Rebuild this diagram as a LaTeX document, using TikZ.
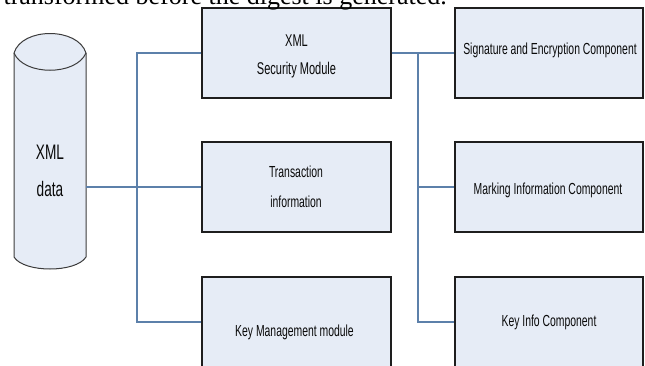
\documentclass[tikz,border=0pt]{standalone}
\usepackage{fontspec}
\setmainfont{Liberation Sans}
\newfontfamily\nar[FakeStretch=0.65]{Liberation Sans}
\newfontfamily\tms{Liberation Serif}
\definecolor{boxfill}{RGB}{230,236,246}
\definecolor{boxline}{RGB}{30,30,30}
\definecolor{cylline}{RGB}{60,60,60}
\definecolor{wirec}{RGB}{92,128,170}
\definecolor{txt}{RGB}{10,10,10}
\begin{document}
\begin{tikzpicture}[x=1pt,y=-1pt,
  box/.style={draw=boxline, line width=1.3pt, fill=boxfill, minimum width=189pt, minimum height=90pt, inner sep=0pt},
  lbl/.style={inner sep=0pt, align=center, text=txt, font=\nar\fontsize{16}{30}\selectfont},
  wire/.style={draw=wirec, line width=1.2pt}]
\useasboundingbox (0,0) rectangle (645,365);
\clip (0,0) rectangle (645,365);
% cylinder (XML data)
\draw[draw=cylline, line width=1pt, fill=boxfill] (14,53) .. controls (22,27) and (78,27) .. (86,53) -- (86,257) .. controls (76,273) and (24,273) .. (14,257) -- cycle;
\draw[draw=cylline, line width=1pt] (14,53) .. controls (24,76) and (76,76) .. (86,53);
\node[inner sep=0pt, minimum width=72pt, minimum height=236pt] (db) at (50,150) {};
\node[lbl, font=\nar\fontsize{21}{37}\selectfont] (dbL) at (50,171) {XML\\data};
% boxes
\node[box] (sec) at (296.5,53) {};
\node[box] (tr) at (296.5,187) {};
\node[box] (km) at (296.5,322) {};
\node[box, minimum width=188pt] (sig) at (549,53) {};
\node[box, minimum width=188pt] (mi) at (549,187) {};
\node[box, minimum width=188pt] (ki) at (549,322) {};
% labels
\node[lbl, font=\nar\fontsize{17}{28}\selectfont] (secL) at (296.5,56) {XML\\Security Module};
\node[lbl] (trL) at (296,187) {Transaction\\information};
\node[lbl, anchor=base] (kmL) at (294.5,336) {Key Management module};
\node[lbl, anchor=base] (sigL) at (550,54) {Signature and Encryption Component};
\node[lbl, anchor=base] (miL) at (548,194) {Marking Information Component};
\node[lbl, anchor=base] (kiL) at (549,326) {Key Info Component};
% connectors
\coordinate (lb) at (137,0);
\coordinate (rb) at (418,0);
\draw[wire] (db.east |- tr.west) -- (tr.west);
\draw[wire] (sec.west) -- (sec.west -| lb) -- (km.west -| lb) -- (km.west);
\draw[wire] (sec.east) -- (sig.west);
\draw[wire] (sec.east -| rb) -- (ki.west -| rb) -- (ki.west);
\draw[wire] (mi.west -| rb) -- (mi.west);
% clipped running text above the figure
\node[anchor=base east, inner sep=0pt, font=\tms\fontsize{26}{30}\selectfont] (cap) at (447,4) {transformed before the digest is generated.};
\end{tikzpicture}
\end{document}
